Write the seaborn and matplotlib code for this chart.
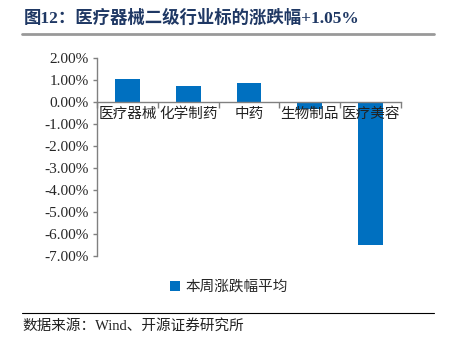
import matplotlib
matplotlib.use("Agg")
import matplotlib.pyplot as plt
import seaborn as sns
import pandas as pd
from matplotlib.lines import Line2D
from matplotlib.patches import Patch
from matplotlib.ticker import FixedLocator, FuncFormatter

categories = ["医疗器械", "化学制药", "中药", "生物制品", "医疗美容"]
values = [1.05, 0.73, 0.86, -0.32, -6.50]
yticks = [2, 1, 0, -1, -2, -3, -4, -5, -6, -7]
title = "图12：医疗器械二级行业标的涨跌幅+1.05%"
legend_label = "本周涨跌幅平均"
source = "数据来源：Wind、开源证券研究所"

sns.set_theme(style="white")
plt.rcParams['font.family'] = ['Liberation Serif', 'Noto Sans CJK SC', 'DejaVu Sans']

df = pd.DataFrame({"cat": categories, "val": values})

fig = plt.figure(figsize=(4.52, 3.48), dpi=100)
ax = fig.add_axes([97/452, 1-256/348, (401-97)/452, (256-58)/348])

sns.barplot(data=df, x="cat", y="val", color="#0070C0", width=0.41,
            saturation=1, ax=ax, edgecolor="none", zorder=1)
ax.set_axisbelow(False)

ax.set_xlim(-0.5, 4.5)
ax.set_ylim(-7, 2)
ax.set_yticks(yticks)
ax.yaxis.set_major_formatter(FuncFormatter(lambda v, p: f"{v:.2f}%"))
ax.tick_params(axis='y', which='major', left=True, length=3, width=1,
               color="#808080", labelsize=11, pad=3, direction='out')
ax.set_xlabel("")
ax.set_ylabel("")

for s in ["top", "right"]:
    ax.spines[s].set_visible(False)
ax.spines["left"].set_color("#808080")
ax.spines["bottom"].set_color("#808080")
ax.spines["bottom"].set_position(("data", 0))
ax.spines["left"].set_linewidth(1)
ax.spines["bottom"].set_linewidth(1)

ax.xaxis.set_minor_locator(FixedLocator([-0.5, 0.5, 1.5, 2.5, 3.5, 4.5]))
ax.tick_params(axis='x', which='minor', bottom=True, length=4, width=1,
               color="#808080", direction='out')
ax.tick_params(axis='x', which='major', bottom=True, length=0, labelsize=10.5, pad=4)
ax.set_xticks(range(len(categories)))
ax.set_xticklabels(categories)
for lbl in ax.get_xticklabels():
    lbl.set_color("#222222")

leg = ax.legend(handles=[Patch(facecolor="#0070C0", edgecolor="none", label=legend_label)],
                loc="center", bbox_to_anchor=(229/452, 1-287/348),
                bbox_transform=fig.transFigure, frameon=False, fontsize=10.5,
                handlelength=0.7, handleheight=0.7, handletextpad=0.4)

fig.text(24/452, 1-18/348, title, fontsize=12.5, fontweight="bold",
         color="#1F3864", ha="left", va="center")
fig.add_artist(Line2D([22/452, 434/452], [1-34/348, 1-34/348], color="#999999",
                      linewidth=2, transform=fig.transFigure))
fig.add_artist(Line2D([22/452, 434/452], [1-313/348, 1-313/348], color="#000000",
                      linewidth=0.8, transform=fig.transFigure))
fig.text(22/452, 1-326/348, source, fontsize=10.5, color="#222222",
         ha="left", va="center")

fig.savefig("out.png", dpi=100)
